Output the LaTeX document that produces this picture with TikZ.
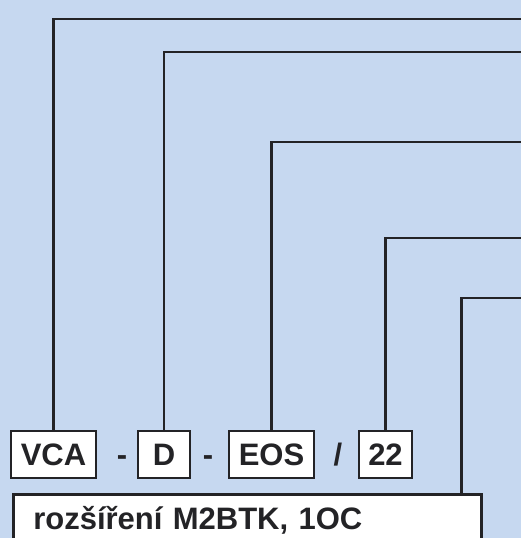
\documentclass[tikz,border=0pt]{standalone}
\usepackage{fontspec}
\setmainfont{Liberation Sans}
\usepackage{xcolor}
\usepackage{tikz}
\usetikzlibrary{positioning}
\definecolor{bgblue}{RGB}{198,216,240}
\definecolor{linecolor}{RGB}{35,35,38}
\tikzset{
  code/.style={draw=linecolor, line width=2.6pt, fill=white, text=linecolor, minimum height=47pt, inner sep=0pt, text height=22pt, text depth=0pt, font=\fontsize{31}{36}\selectfont\bfseries},
  sep/.style={inner sep=0pt, text=linecolor, text height=22pt, text depth=0pt, font=\fontsize{31}{36}\selectfont\bfseries},
  infobox/.style={draw=linecolor, line width=2.6pt, fill=white, text=linecolor, anchor=north west, align=left, text width=428pt, inner xsep=20pt, inner ysep=0pt, text height=35pt, text depth=40pt, font=\fontsize{31}{36}\selectfont\bfseries},
  lead/.style={draw=linecolor, line width=2.4pt},
}
\begin{document}
\begin{tikzpicture}[x=1pt,y=-1pt]
\useasboundingbox (0,0) rectangle (521,538);
\clip (0,0) rectangle (521,538);
\fill[bgblue] (0,0) rectangle (521,538);
% code boxes
\node[code, minimum width=85pt] (vca) at (53.5,454.5) {VCA};
\node[sep] (dash1) at (122,454.5) {-};
\node[code, minimum width=52pt] (d) at (164,454.5) {D};
\node[sep] (dash2) at (208,454.5) {-};
\node[code, minimum width=85pt] (eos) at (271.5,454.5) {EOS};
\node[sep] (slash) at (338,454.5) {/};
\node[code, minimum width=53pt] (size) at (385.5,454.5) {22};
\node[infobox] (info) at (12,493) {rozšíření M2BTK, 1OC};
% leads to the right edge
\coordinate (e1) at (521,19);
\coordinate (e2) at (521,52);
\coordinate (e3) at (521,142);
\coordinate (e4) at (521,238);
\coordinate (e5) at (521,298);
\draw[lead] (vca.north) |- (e1);
\draw[lead] (d.north) |- (e2);
\draw[lead] (eos.north) |- (e3);
\draw[lead] (size.north) |- (e4);
\draw[lead] ([xshift=214pt]info.north) |- (e5);
\end{tikzpicture}
\end{document}
